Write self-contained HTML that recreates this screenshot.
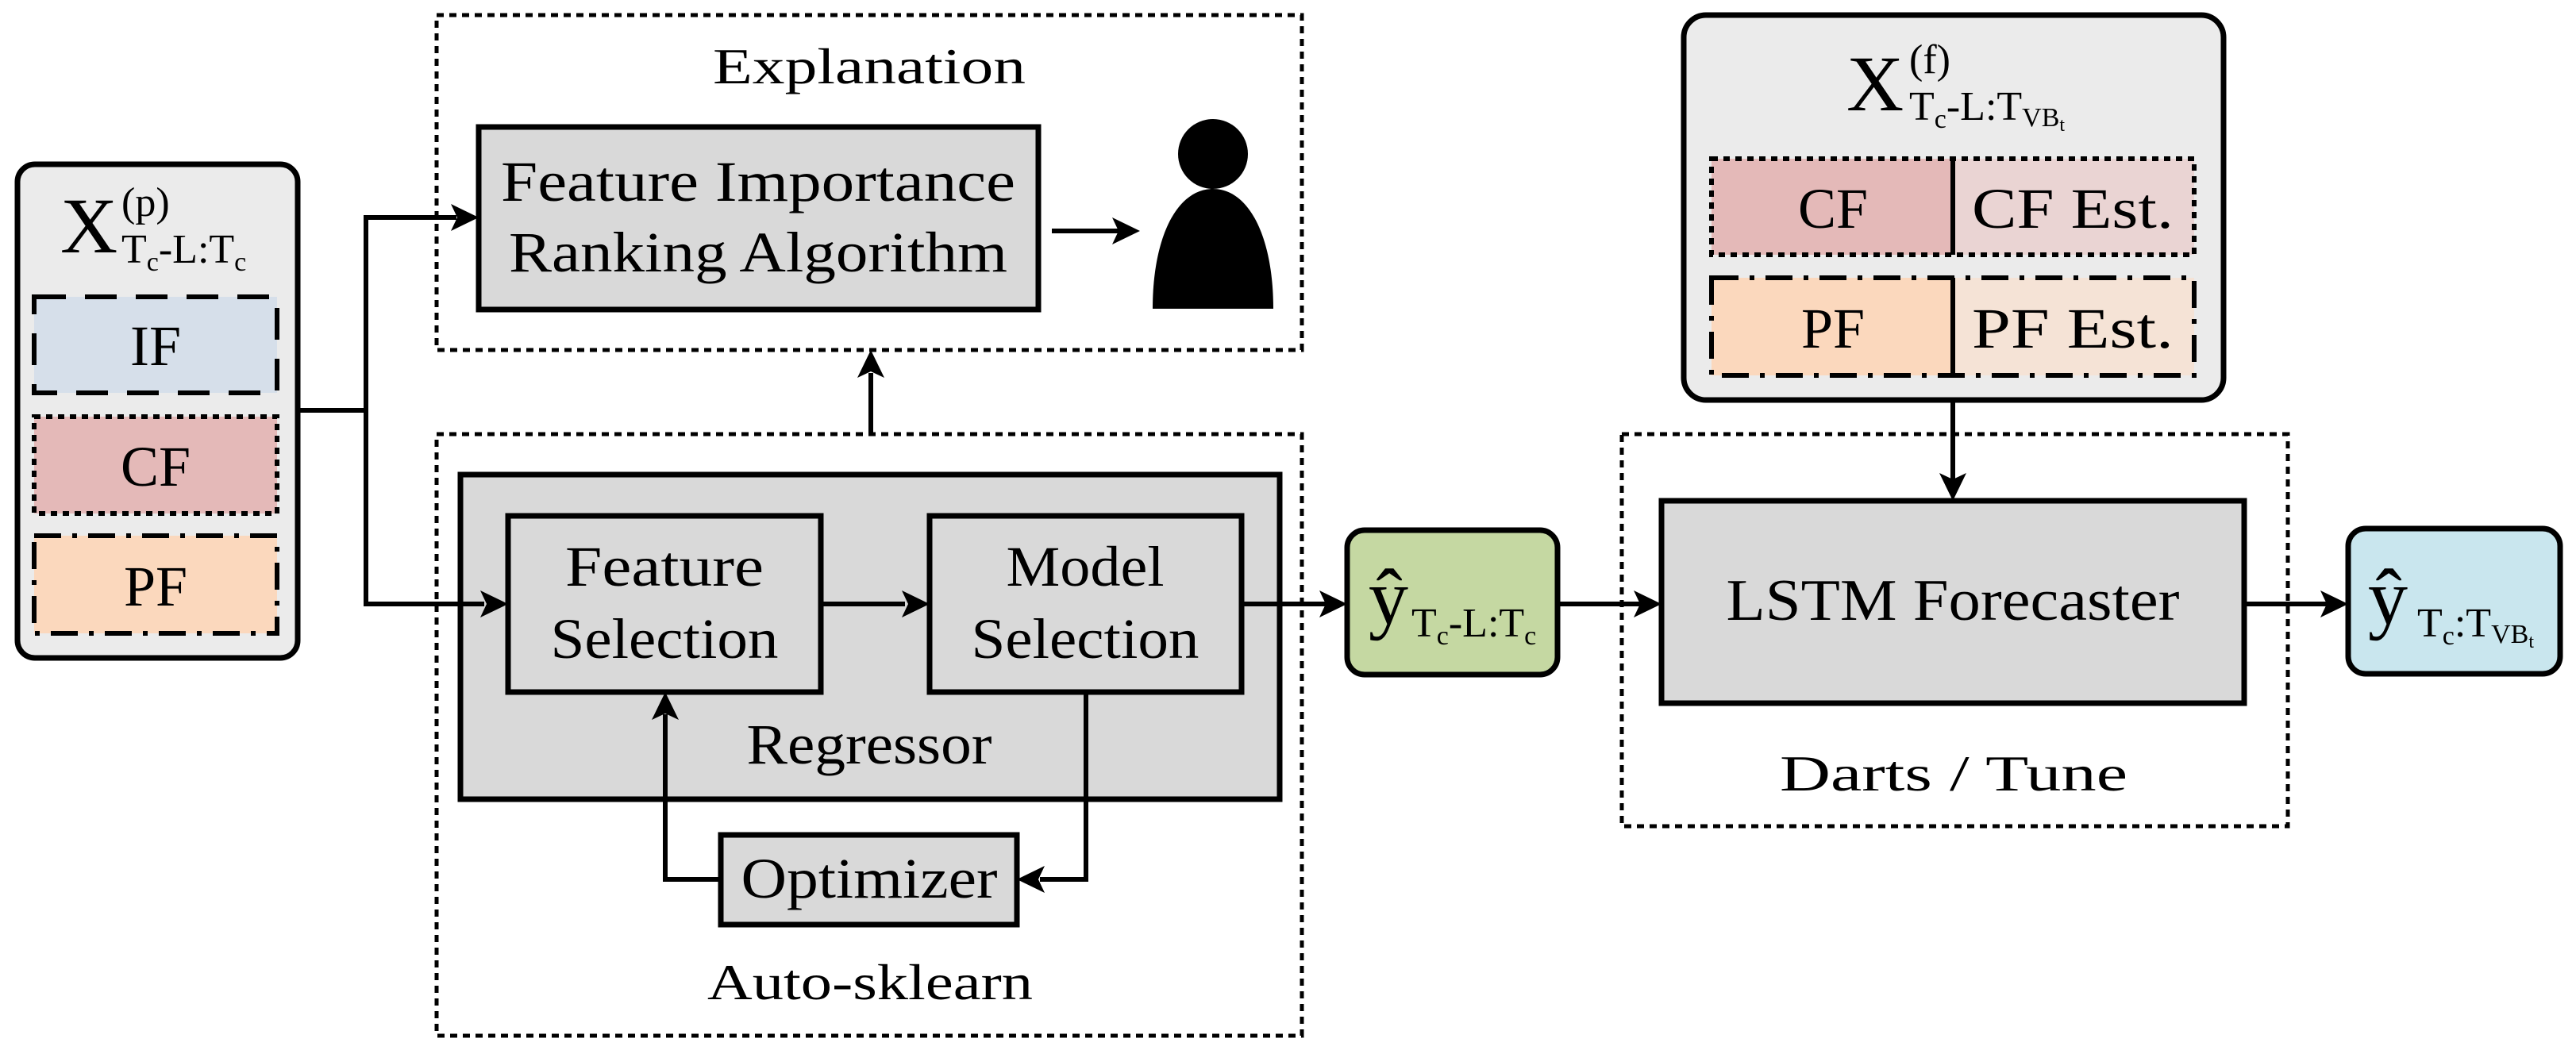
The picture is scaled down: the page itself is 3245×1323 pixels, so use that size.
<!DOCTYPE html>
<html><head><meta charset="utf-8"><style>
html,body{margin:0;padding:0;background:#fff;}
svg{display:block;}
text{font-family:"Liberation Serif",serif;fill:#000;}
</style></head><body>
<svg width="3245" height="1323" viewBox="0 0 3245 1323" xmlns="http://www.w3.org/2000/svg">
<defs>
<marker id="ah" markerWidth="10" markerHeight="10" refX="10" refY="5" orient="auto" markerUnits="userSpaceOnUse" viewBox="0 0 10 10" style="overflow:visible">
</marker>
</defs>
<g stroke="#000" fill="none">
<!-- dashed outer boxes -->
<rect x="550" y="19" width="1090" height="422" stroke-width="5" stroke-dasharray="9,7"/>
<rect x="550" y="547" width="1090" height="758" stroke-width="5" stroke-dasharray="9,7"/>
<rect x="2043" y="547" width="839" height="494" stroke-width="5" stroke-dasharray="9,7"/>
</g>
<!-- left input box -->
<rect x="22" y="207" width="353" height="622" rx="22" fill="#ebebeb" stroke="#000" stroke-width="7"/>
<rect x="43" y="374" width="306" height="121" fill="#d6dfea" stroke="#000" stroke-width="6" stroke-dasharray="40,24"/>
<rect x="43" y="525" width="306" height="122" fill="#e4b9b8" stroke="#000" stroke-width="6" stroke-dasharray="8,7"/>
<rect x="43" y="675" width="306" height="123" fill="#fbd8bd" stroke="#000" stroke-width="6" stroke-dasharray="34,14,6,14"/>
<text x="76" y="318" font-size="100">X</text>
<text x="153" y="272" font-size="52">(p)</text>
<text x="153" y="331" font-size="52">T<tspan font-size="34" dy="10">c</tspan><tspan dy="-10">-L:T</tspan><tspan font-size="34" dy="10">c</tspan></text>
<text x="196" y="460" font-size="72" text-anchor="middle">IF</text>
<text x="196" y="612" font-size="72" text-anchor="middle">CF</text>
<text x="196" y="763" font-size="72" text-anchor="middle">PF</text>

<!-- Explanation -->
<text x="1095" y="105" font-size="64" text-anchor="middle" textLength="394" lengthAdjust="spacingAndGlyphs">Explanation</text>
<rect x="603" y="160" width="705" height="230" fill="#d9d9d9" stroke="#000" stroke-width="7"/>
<text x="955" y="253" font-size="72" text-anchor="middle" textLength="648" lengthAdjust="spacingAndGlyphs">Feature Importance</text>
<text x="955" y="342" font-size="72" text-anchor="middle" textLength="628" lengthAdjust="spacingAndGlyphs">Ranking Algorithm</text>
<circle cx="1528" cy="194" r="44" fill="#000"/>
<path d="M1452 389 C1452 300 1482 238 1528 238 C1574 238 1604 300 1604 389 Z" fill="#000"/>

<!-- Auto-sklearn -->
<rect x="580" y="598" width="1032" height="409" fill="#d9d9d9" stroke="#000" stroke-width="7"/>
<rect x="640" y="650" width="394" height="222" fill="#d9d9d9" stroke="#000" stroke-width="7"/>
<rect x="1171" y="650" width="393" height="222" fill="#d9d9d9" stroke="#000" stroke-width="7"/>
<text x="837" y="738" font-size="72" text-anchor="middle" textLength="250" lengthAdjust="spacingAndGlyphs">Feature</text>
<text x="837" y="829" font-size="72" text-anchor="middle" textLength="287" lengthAdjust="spacingAndGlyphs">Selection</text>
<text x="1367" y="738" font-size="72" text-anchor="middle" textLength="199" lengthAdjust="spacingAndGlyphs">Model</text>
<text x="1367" y="829" font-size="72" text-anchor="middle" textLength="287" lengthAdjust="spacingAndGlyphs">Selection</text>
<text x="1095" y="962" font-size="72" text-anchor="middle" textLength="309" lengthAdjust="spacingAndGlyphs">Regressor</text>
<rect x="908" y="1052" width="373" height="113" fill="#d9d9d9" stroke="#000" stroke-width="7"/>
<text x="1095" y="1131" font-size="72" text-anchor="middle" textLength="323" lengthAdjust="spacingAndGlyphs">Optimizer</text>
<text x="1096" y="1259" font-size="64" text-anchor="middle" textLength="410" lengthAdjust="spacingAndGlyphs">Auto-sklearn</text>

<!-- green -->
<rect x="1697" y="668" width="265" height="182" rx="22" fill="#c5d8a2" stroke="#000" stroke-width="7"/>
<text x="1724" y="786" font-size="100">ŷ</text>
<text x="1778" y="802" font-size="52">T<tspan font-size="34" dy="10">c</tspan><tspan dy="-10">-L:T</tspan><tspan font-size="34" dy="10">c</tspan></text>

<!-- X(f) -->
<rect x="2121" y="19" width="680" height="485" rx="28" fill="#ebebeb" stroke="#000" stroke-width="7"/>
<text x="2326" y="139" font-size="100">X</text>
<text x="2405" y="92" font-size="52">(f)</text>
<text x="2405" y="151" font-size="52">T<tspan font-size="34" dy="10">c</tspan><tspan dy="-10">-L:T</tspan><tspan font-size="34" dy="8">VB</tspan><tspan font-size="24" dy="6">t</tspan></text>
<rect x="2156" y="200" width="304" height="121" fill="#e4b9b8"/>
<rect x="2460" y="200" width="304" height="121" fill="#ead4d3"/>
<rect x="2156" y="200" width="608" height="121" fill="none" stroke="#000" stroke-width="6" stroke-dasharray="8,7"/>
<line x1="2460" y1="200" x2="2460" y2="321" stroke="#000" stroke-width="6"/>
<rect x="2156" y="350" width="304" height="123" fill="#fbd8bd"/>
<rect x="2460" y="350" width="304" height="123" fill="#f5e3d6"/>
<rect x="2156" y="350" width="608" height="123" fill="none" stroke="#000" stroke-width="6" stroke-dasharray="34,14,6,14"/>
<line x1="2460" y1="350" x2="2460" y2="473" stroke="#000" stroke-width="6"/>
<text x="2309" y="287" font-size="72" text-anchor="middle">CF</text>
<text x="2611" y="287" font-size="72" text-anchor="middle" textLength="254" lengthAdjust="spacingAndGlyphs">CF Est.</text>
<text x="2309" y="438" font-size="72" text-anchor="middle">PF</text>
<text x="2611" y="438" font-size="72" text-anchor="middle" textLength="254" lengthAdjust="spacingAndGlyphs">PF Est.</text>

<!-- LSTM -->
<rect x="2093" y="631" width="734" height="255" fill="#d9d9d9" stroke="#000" stroke-width="7"/>
<text x="2460" y="781" font-size="74" text-anchor="middle" textLength="571" lengthAdjust="spacingAndGlyphs">LSTM Forecaster</text>
<text x="2461" y="996" font-size="64" text-anchor="middle" textLength="438" lengthAdjust="spacingAndGlyphs">Darts / Tune</text>

<!-- blue -->
<rect x="2958" y="666" width="267" height="183" rx="22" fill="#c9e6ee" stroke="#000" stroke-width="7"/>
<text x="2983" y="786" font-size="100">ŷ</text>
<text x="3045" y="802" font-size="52">T<tspan font-size="34" dy="10">c</tspan><tspan dy="-10">:T</tspan><tspan font-size="34" dy="8">VB</tspan><tspan font-size="24" dy="6">t</tspan></text>

<!-- connectors -->
<g stroke="#000" stroke-width="6" fill="none">
<polyline points="375,517 461,517"/>
<polyline points="575,274 461,274 461,761 610,761"/>
<line x1="1325" y1="291" x2="1410" y2="291"/>
<line x1="1097" y1="547" x2="1097" y2="470"/>
<line x1="1034" y1="761" x2="1140" y2="761"/>
<polyline points="1368,872 1368,1108 1310,1108"/>
<polyline points="908,1108 838,1108 838,900"/>
<line x1="1564" y1="761" x2="1670" y2="761"/>
<line x1="1962" y1="761" x2="2066" y2="761"/>
<line x1="2460" y1="504" x2="2460" y2="605"/>
<line x1="2827" y1="761" x2="2932" y2="761"/>
</g>
<g fill="#000">
<!-- right arrows: tip at (x,y) -->
<path d="M603 274 L568 257 L576 274 L568 291 Z"/>
<path d="M640 761 L605 744 L613 761 L605 778 Z"/>
<path d="M1436 291 L1401 274 L1409 291 L1401 308 Z"/>
<path d="M1171 761 L1136 744 L1144 761 L1136 778 Z"/>
<path d="M1697 761 L1662 744 L1670 761 L1662 778 Z"/>
<path d="M2093 761 L2058 744 L2066 761 L2058 778 Z"/>
<path d="M2958 761 L2923 744 L2931 761 L2923 778 Z"/>
<!-- left arrow to optimizer -->
<path d="M1281 1108 L1316 1091 L1308 1108 L1316 1125 Z"/>
<!-- up arrows -->
<path d="M1097 441 L1080 476 L1097 468 L1114 476 Z"/>
<path d="M838 872 L821 907 L838 899 L855 907 Z"/>
<!-- down arrow -->
<path d="M2460 631 L2443 596 L2460 604 L2477 596 Z"/>
</g>
</svg>
</body></html>
